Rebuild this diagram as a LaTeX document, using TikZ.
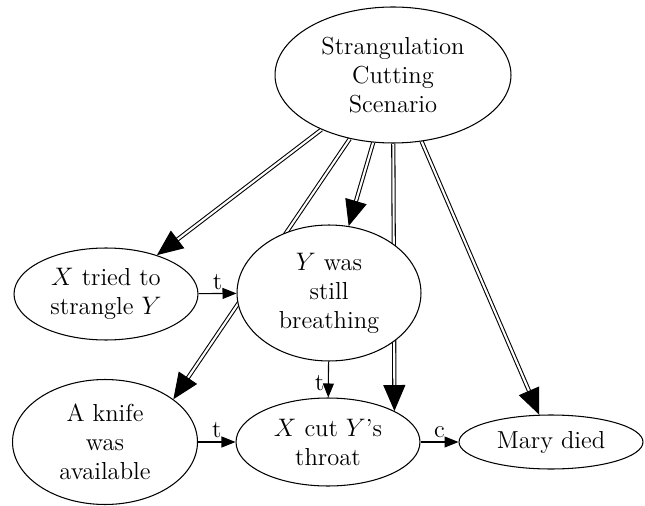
\documentclass[tikz,border=0pt]{standalone}
\usetikzlibrary{shapes.geometric,arrows.meta,backgrounds}
\begin{document}
\begin{tikzpicture}[x=0.02cm, y=-0.02cm,
  ev/.style={draw, ellipse, fill=white, inner sep=0pt, align=center, line width=0.6pt, font=\fontsize{14}{16.5}\selectfont},
  tl/.style={-{Triangle[length=0.28cm,width=0.22cm]}, line width=0.6pt},
  sc/.style={double, double distance=1.2pt, line width=0.6pt, -{Triangle[length=0.52cm,width=0.44cm]}},
  lab/.style={font=\fontsize{14}{16.5}\selectfont, inner sep=2pt}]
\useasboundingbox (0,0) rectangle (645,506);
\node [ev, minimum width=4.72cm, minimum height=2.72cm] (scen) at (393, 75) {Strangulation\\Cutting\\Scenario};
\node [ev, minimum width=3.68cm, minimum height=1.84cm] (tried) at (106, 294) {$X$ tried to\\strangle $Y$};
\node [ev, minimum width=3.68cm, minimum height=2.72cm] (breath) at (329, 293) {$Y$ was\\still\\breathing};
\node [ev, minimum width=3.7cm, minimum height=2.5cm] (knife) at (105, 442) {A knife\\was\\available};
\node [ev, minimum width=3.68cm, minimum height=1.76cm] (cut) at (328, 442) {$X$ cut $Y$'s\\throat};
\node [ev, minimum width=3.68cm, minimum height=1.08cm] (died) at (551, 442) {Mary died};
\begin{pgfonlayer}{background}
\draw [sc] (scen) -- (tried);
\draw [sc] (scen) -- (breath);
\draw [sc] (scen) -- (knife.32);
\draw [sc] (scen) -- (cut.25);
\draw [sc] (scen) -- (died);
\end{pgfonlayer}
\draw [tl] (tried) -- (breath) node [midway, above, lab] {t};
\draw [tl] (breath) -- (cut) node [pos=0.6, left, lab] {t};
\draw [tl] (knife) -- (cut) node [midway, above, lab] {t};
\draw [tl] (cut) -- (died) node [midway, above, lab] {c};
\end{tikzpicture}
\end{document}
